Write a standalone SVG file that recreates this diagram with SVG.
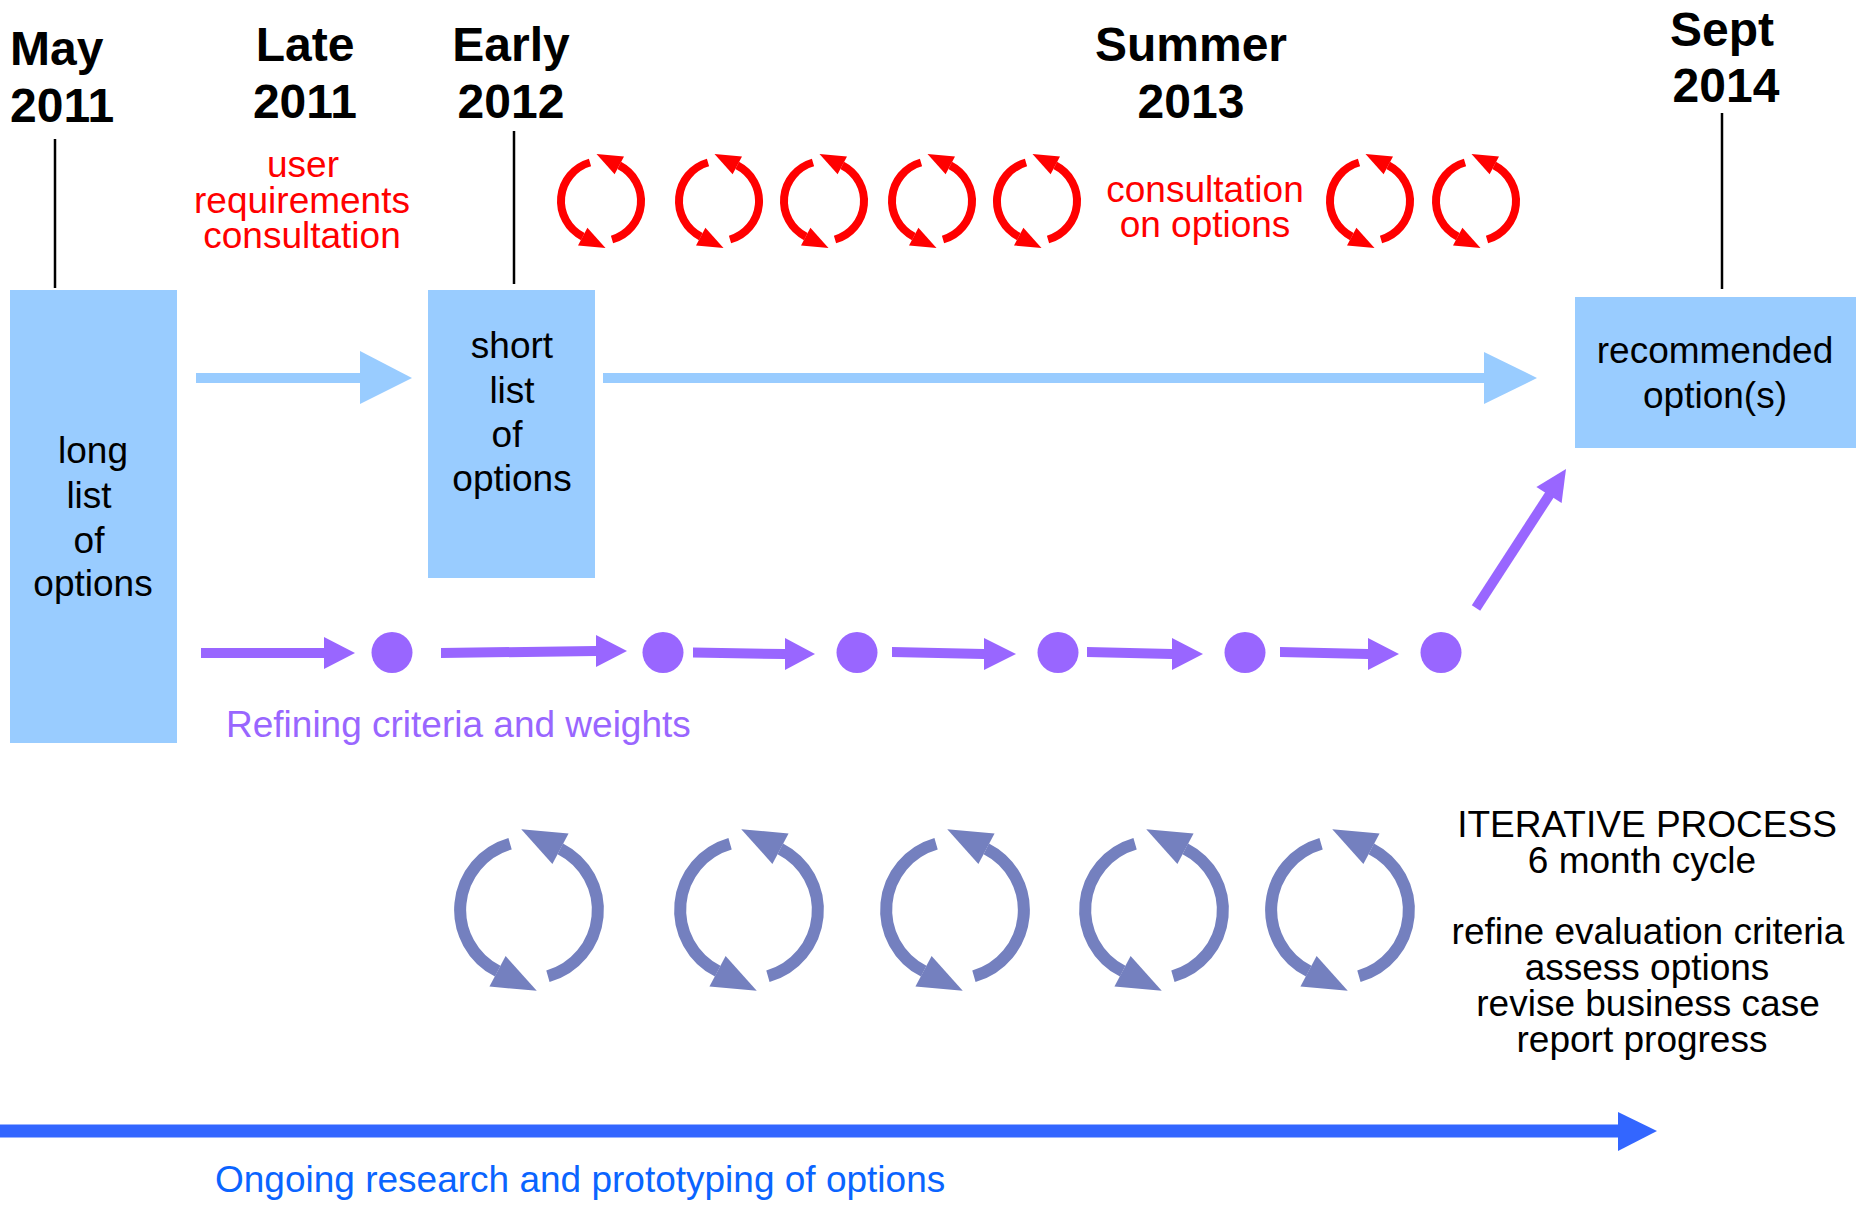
<svg xmlns="http://www.w3.org/2000/svg" xmlns:xlink="http://www.w3.org/1999/xlink" width="1865" height="1207" viewBox="0 0 1865 1207">
<style>
text{font-family:"Liberation Sans",Arial,Helvetica,sans-serif}
.hd{font-size:48px;font-weight:bold;fill:#000;text-anchor:middle}
.bx{font-size:37px;fill:#000;text-anchor:middle}
.red{font-size:37px;fill:#ff0000;text-anchor:middle}
.it{font-size:37px;fill:#000;text-anchor:middle}
.box{fill:#99ccff}
.tick{stroke:#000;stroke-width:2.5}
.lb{fill:#99ccff}
.pu{fill:#9966ff}
.bl{fill:#3366ff}
.cr{fill:none;stroke:#ff0000}
.cp{fill:none;stroke:#7480bf}
</style>
<defs>
<symbol id="cyc" overflow="visible">
<path d="M -11 -38.5 A 40 40 0 0 0 -18.2 35.6" fill="none"/>
<path d="M 11 38.5 A 40 40 0 0 0 18.2 -35.6" fill="none"/>
<polygon points="-23,44.5 -13.6,26.8 4.5,47" stroke="none" style="fill:inherit"/>
<polygon points="23,-44.5 13.6,-26.8 -4.5,-47" stroke="none" style="fill:inherit"/>
</symbol>
</defs>

<g id="heading-may2011"><text class="hd" x="10" y="65" text-anchor="start" style="text-anchor:start">May</text><text class="hd" x="10" y="122" style="text-anchor:start">2011</text><line class="tick" x1="55" y1="139" x2="55" y2="288"/></g>
<g id="heading-late2011"><text class="hd" x="305" y="61">Late</text><text class="hd" x="305" y="118">2011</text></g>
<g id="heading-early2012"><text class="hd" x="511" y="61">Early</text><text class="hd" x="511" y="118">2012</text><line class="tick" x1="514" y1="131" x2="514" y2="284"/></g>
<g id="heading-summer2013"><text class="hd" x="1191" y="61">Summer</text><text class="hd" x="1191" y="118">2013</text></g>
<g id="heading-sept2014"><text class="hd" x="1722" y="46">Sept</text><text class="hd" x="1726" y="102">2014</text><line class="tick" x1="1722" y1="113" x2="1722" y2="289"/></g>

<g id="user-requirements"><text class="red" x="303" y="177">user</text><text class="red" x="302" y="213">requirements</text><text class="red" x="302" y="248">consultation</text></g>
<g id="consultation-options"><text class="red" x="1205" y="202">consultation</text><text class="red" x="1205" y="237">on options</text></g>

<g id="red-cycles" class="cr" style="fill:#ff0000;stroke-width:8">
<use xlink:href="#cyc" href="#cyc" x="601" y="201"/>
<use xlink:href="#cyc" href="#cyc" x="719" y="201"/>
<use xlink:href="#cyc" href="#cyc" x="824" y="201"/>
<use xlink:href="#cyc" href="#cyc" x="932" y="201"/>
<use xlink:href="#cyc" href="#cyc" x="1037" y="201"/>
<use xlink:href="#cyc" href="#cyc" x="1370" y="201"/>
<use xlink:href="#cyc" href="#cyc" x="1476" y="201"/>
</g>

<g id="long-list"><rect class="box" x="10" y="290" width="167" height="453"/>
<text class="bx" x="93" y="463">long</text><text class="bx" x="89" y="508">list</text><text class="bx" x="89" y="553">of</text><text class="bx" x="93" y="596">options</text></g>
<g id="short-list"><rect class="box" x="428" y="290" width="167" height="288"/>
<text class="bx" x="512" y="358">short</text><text class="bx" x="512" y="403">list</text><text class="bx" x="507" y="447">of</text><text class="bx" x="512" y="491">options</text></g>
<g id="recommended"><rect class="box" x="1575" y="297" width="281" height="151"/>
<text class="bx" x="1715" y="363">recommended</text><text class="bx" x="1715" y="408">option(s)</text></g>

<g id="connectors">
<rect class="lb" x="196" y="373" width="165" height="10"/><polygon class="lb" points="360,351 412,378 360,404"/>
<rect class="lb" x="603" y="373" width="882" height="10"/><polygon class="lb" points="1484,352 1537,378 1484,404"/>
<g class="pu">
<polygon points="201,648 324,648 324,637 355,653 324,669 324,658 201,658"/>
<polygon points="441,648 596,646 596,635 627,651 596,667 596,656 441,658"/>
<polygon points="693,647.5 785,649 785,638 815,654 785,670 785,659 693,657.5"/>
<polygon points="892,647 984,649 984,638 1016,654 984,670 984,659 892,657"/>
<polygon points="1087,647 1172,649 1172,638 1203,654 1172,670 1172,659 1087,657"/>
<polygon points="1280,647 1368,649 1368,638 1399,654 1368,670 1368,659 1280,657"/>
<line x1="1476" y1="608" x2="1550" y2="494" stroke="#9966ff" stroke-width="10"/>
<polygon points="1561.6,503.1 1536.4,486.9 1566,469"/>
</g>
<rect class="bl" x="0" y="1124.5" width="1619" height="13"/><polygon class="bl" points="1618,1112 1657,1131 1618,1151"/>
</g>

<g id="refining-dots" class="pu">
<circle cx="392" cy="652.5" r="20.5"/><circle cx="663" cy="652.5" r="20.5"/><circle cx="857" cy="652.5" r="20.5"/><circle cx="1058" cy="652.5" r="20.5"/><circle cx="1245" cy="652.5" r="20.5"/><circle cx="1441" cy="652.5" r="20.5"/>
</g>
<g id="refining-label"><text x="226" y="737" style="font-size:37px;fill:#9966ff">Refining criteria and weights</text></g>

<g id="purple-cycles" class="cp" style="fill:#7480bf;stroke-width:7">
<use xlink:href="#cyc" href="#cyc" transform="translate(529,910) scale(1.72)"/>
<use xlink:href="#cyc" href="#cyc" transform="translate(749,910) scale(1.72)"/>
<use xlink:href="#cyc" href="#cyc" transform="translate(955,910) scale(1.72)"/>
<use xlink:href="#cyc" href="#cyc" transform="translate(1154,910) scale(1.72)"/>
<use xlink:href="#cyc" href="#cyc" transform="translate(1340,910) scale(1.72)"/>
</g>

<g id="iterative-process">
<text class="it" x="1647" y="837">ITERATIVE PROCESS</text>
<text class="it" x="1642" y="873">6 month cycle</text>
<text class="it" x="1648" y="944">refine evaluation criteria</text>
<text class="it" x="1647" y="980">assess options</text>
<text class="it" x="1648" y="1016">revise business case</text>
<text class="it" x="1642" y="1052">report progress</text>
</g>

<g id="ongoing-label"><text x="215" y="1192" style="font-size:37px;fill:#0a64ff">Ongoing research and prototyping of options</text></g>
</svg>
